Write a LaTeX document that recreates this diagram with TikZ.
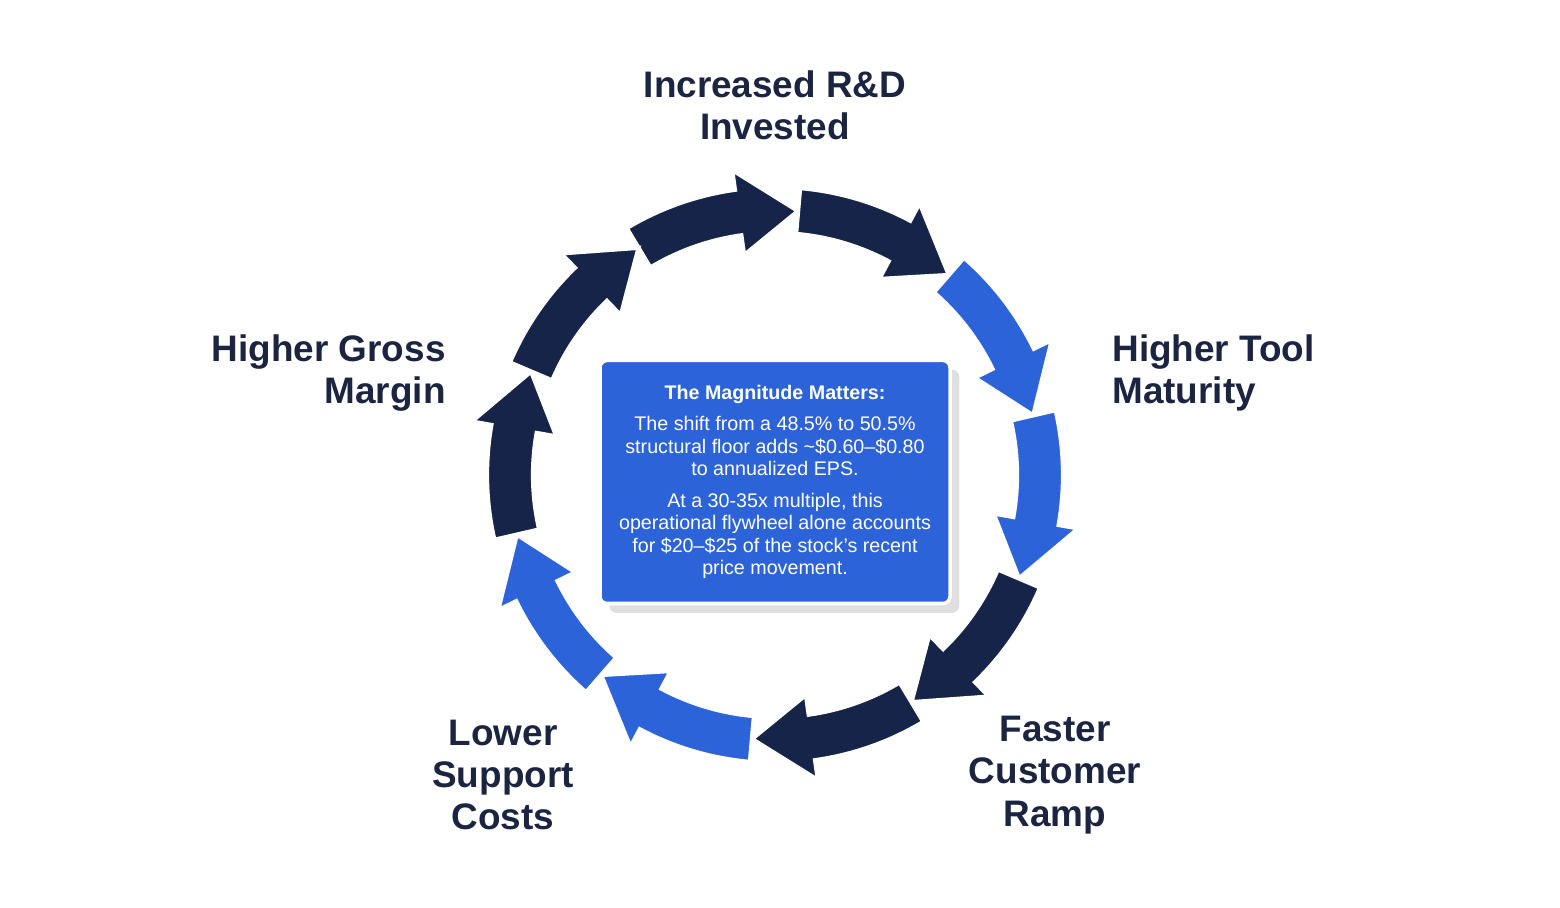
\documentclass[tikz,border=0pt]{standalone}
\usepackage{fontspec}
\setmainfont{Liberation Sans}
\usepackage{tikz}
\usetikzlibrary{positioning, calc, shadows}
\definecolor{navy}{RGB}{21, 36, 72}
\definecolor{royal}{RGB}{45, 99, 216}
\definecolor{labeltext}{RGB}{27, 36, 64}
\tikzstyle{stage} = [text=labeltext, font=\fontsize{10.5}{12}\selectfont\bfseries]
\tikzstyle{segment} = [draw=white, line width=1.2pt, line join=miter]
% clockwise arc arrow: #1 start angle, #2 tip angle, #3 colour
\newcommand{\flyarrow}[3]{%
  \fill[segment, fill=#3] ($(hub)+(#1:2.88)$) arc[start angle=#1, end angle=#2+13, radius=2.88]
    -- ($(hub)+(#2+13:3.08)$) -- ($(hub)+(#2:2.65)$) -- ($(hub)+(#2+13:2.22)$)
    -- ($(hub)+(#2+13:2.42)$) arc[start angle=#2+13, end angle=#1, radius=2.42] -- cycle;}
\begin{document}
\begin{tikzpicture}
    \useasboundingbox (0,0) rectangle (15.6,9.07);
    \coordinate (hub) at (7.75,4.32);

    % Flywheel segments
    \flyarrow{121}{85}{navy}
    \flyarrow{85}{49}{navy}
    \flyarrow{49}{13}{royal}
    \flyarrow{13}{-23}{royal}
    \flyarrow{-23}{-59}{navy}
    \flyarrow{-59}{-95}{navy}
    \flyarrow{-95}{-131}{royal}
    \flyarrow{-131}{-167}{royal}
    \flyarrow{193}{157}{navy}
    \flyarrow{157}{121}{navy}

    % Stage labels
    \node[stage, align=center] (rnd) at (7.75,8.02) {Increased R\&D\\Invested};
    \node[stage, align=left, anchor=west] (tool) at (11.0,5.34) {Higher Tool\\Maturity};
    \node[stage, align=center] (ramp) at (10.55,1.32) {Faster\\Customer\\Ramp};
    \node[stage, align=center] (support) at (5.03,1.32) {Lower\\Support\\Costs};
    \node[stage, align=right, anchor=east] (margin) at (4.58,5.34) {Higher Gross\\Margin};

    % Centre note
    \node[rectangle, rounded corners=2pt, fill=royal, draw=white, line width=1pt,
          drop shadow={opacity=0.25}, minimum width=3.5cm, minimum height=2.43cm,
          text=white, align=center, font=\fontsize{5.6}{6.4}\selectfont] (note) at (7.75,4.25) {
        \textbf{The Magnitude Matters:}\\[2.5pt]
        The shift from a 48.5\% to 50.5\%\\
        structural floor adds \textasciitilde\$0.60--\$0.80\\
        to annualized EPS.\\[2.5pt]
        At a 30-35x multiple, this\\
        operational flywheel alone accounts\\
        for \$20--\$25 of the stock's recent\\
        price movement.
    };
\end{tikzpicture}
\end{document}
